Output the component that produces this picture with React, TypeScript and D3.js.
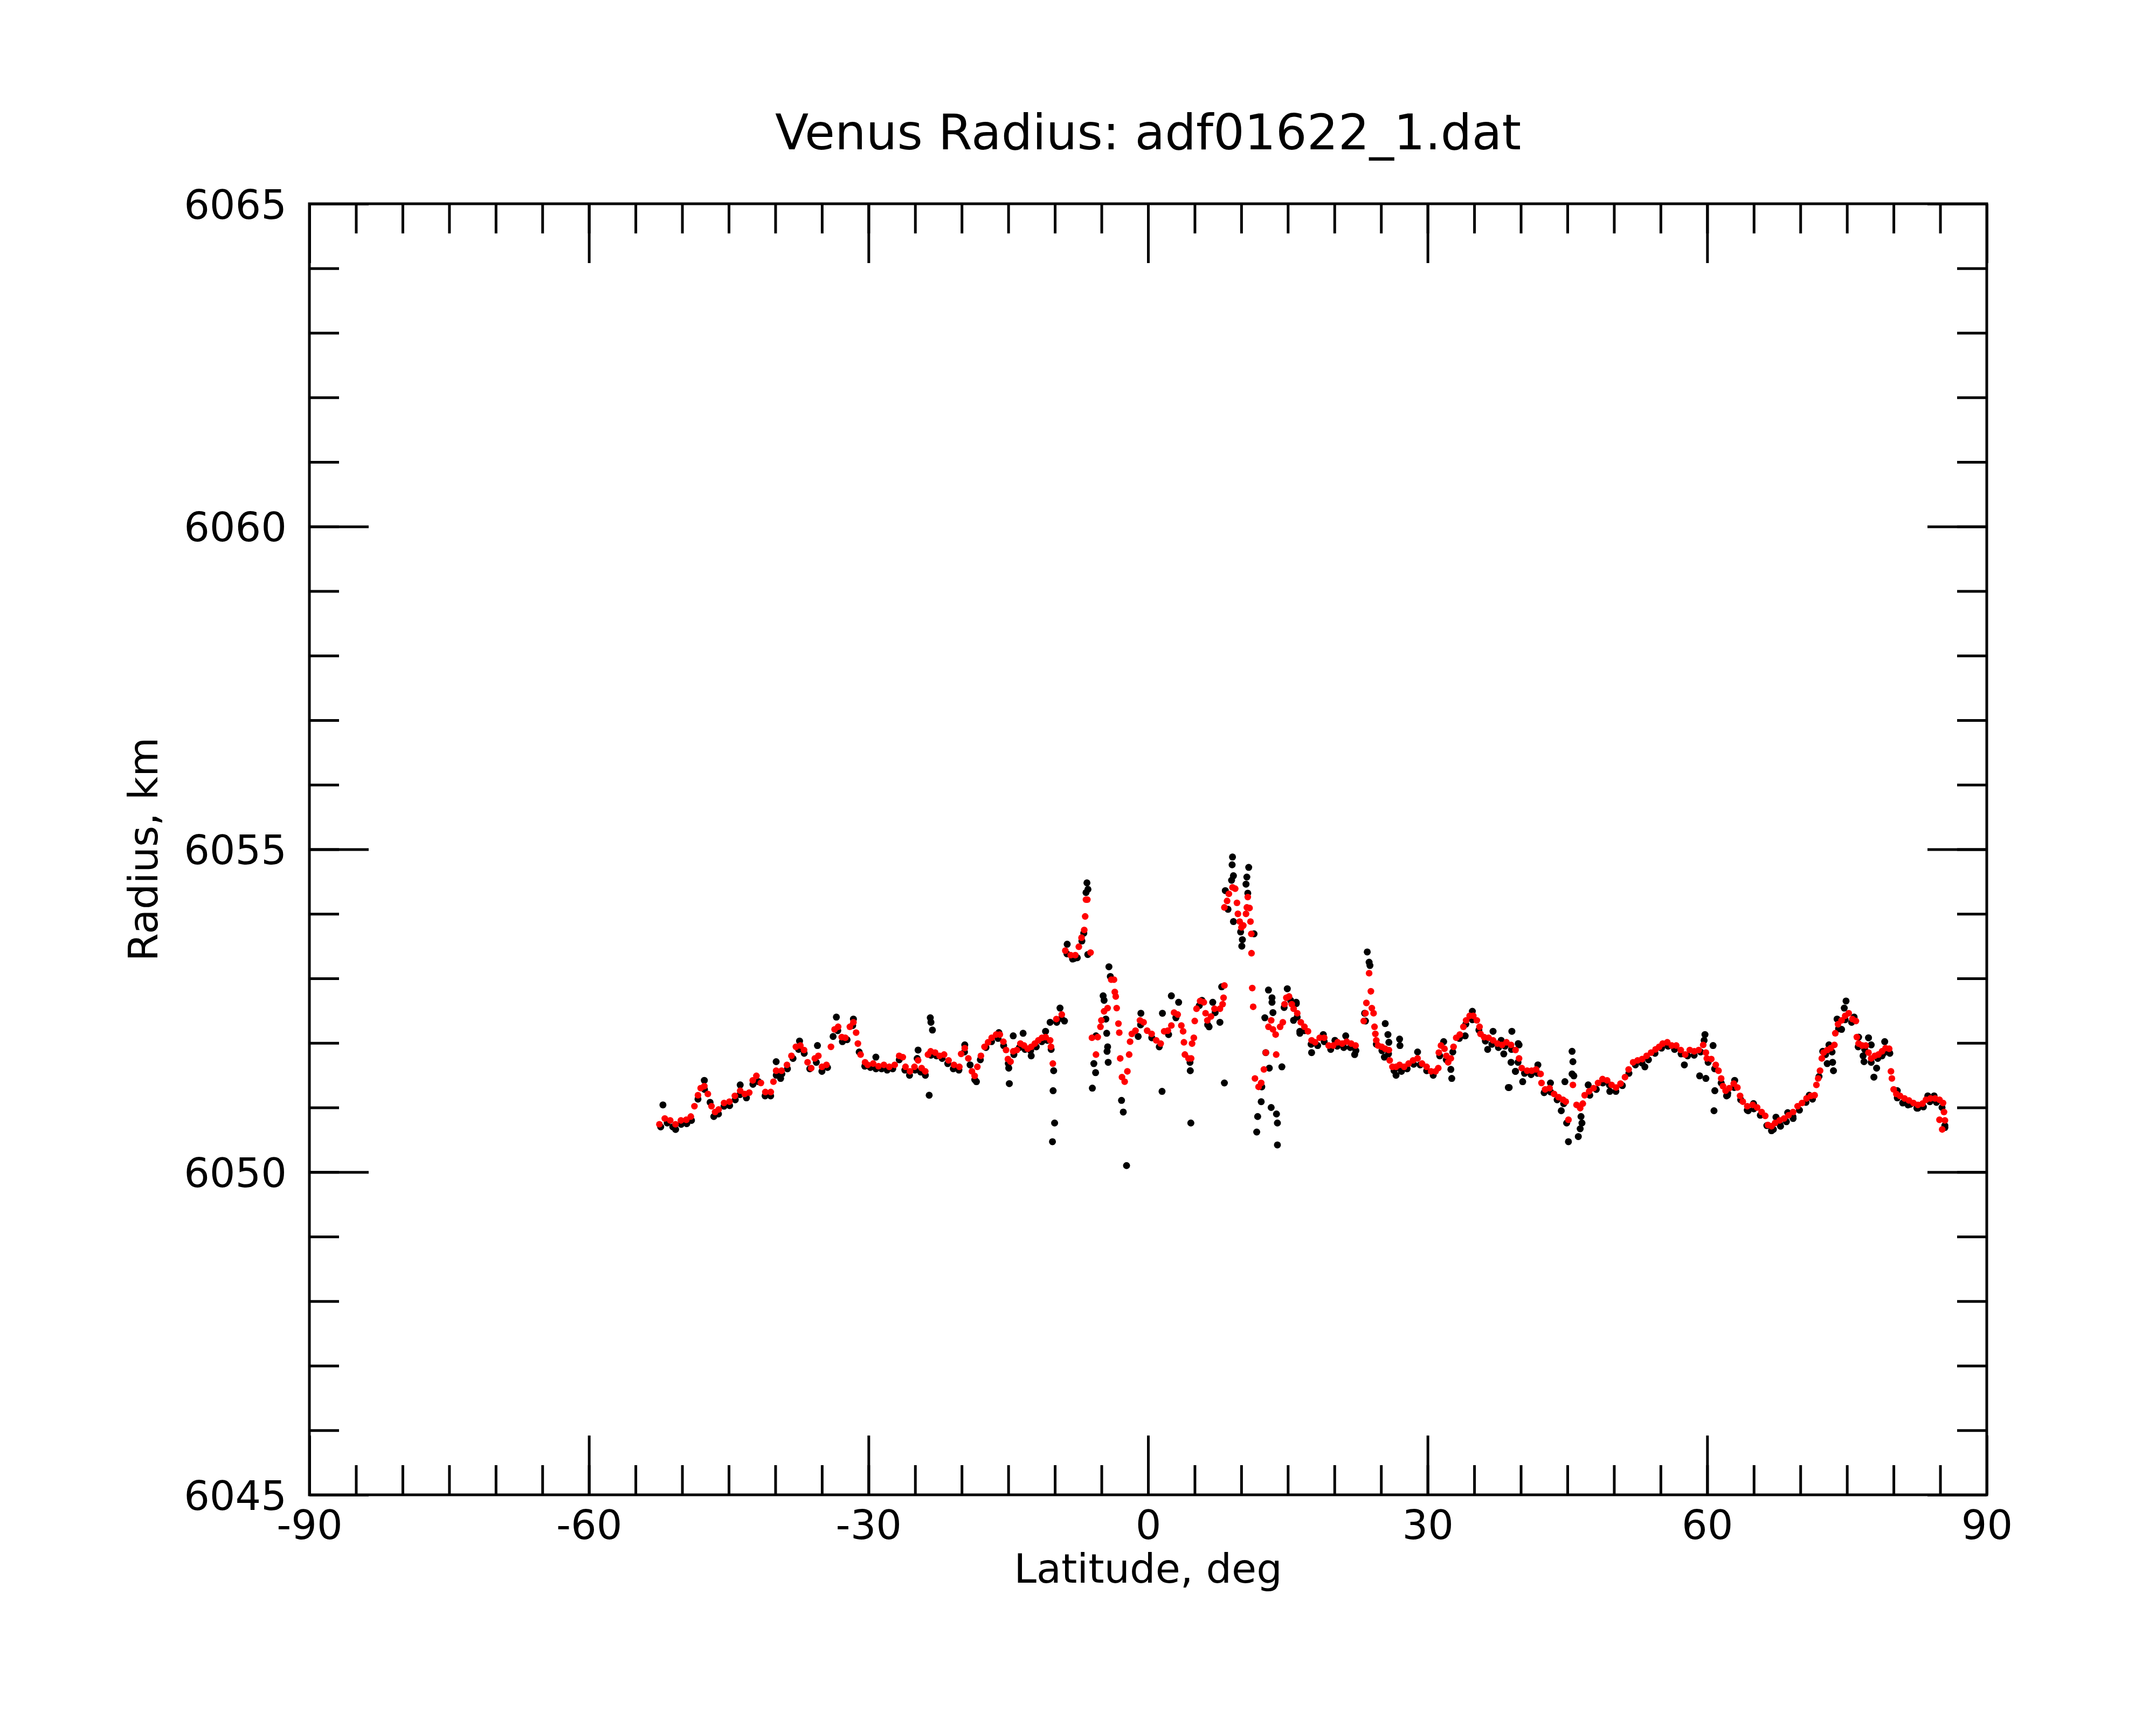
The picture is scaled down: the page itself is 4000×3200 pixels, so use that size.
import { useEffect, useRef } from "react";
import * as d3 from "d3";

const title = "Venus Radius: adf01622_1.dat";
const xLabel = "Latitude, deg";
const yLabel = "Radius, km";

const xMajorTicks = [-90, -60, -30, 0, 30, 60, 90];
const yMajorTicks = [6045, 6050, 6055, 6060, 6065];
const xMinorTicks = d3.range(-90, 91, 5);
const yMinorTicks = d3.range(6045, 6066, 1);

// smoothed radius profile (red), [latitude, radius]
const smoothed: [number, number][] = [
  [-52.44, 6050.74], [-51.86, 6050.83], [-51.28, 6050.8], [-50.71, 6050.74], [-50.13, 6050.8],
  [-49.55, 6050.81], [-49.07, 6050.86], [-48.68, 6051.02], [-48.3, 6051.19], [-48.01, 6051.3],
  [-47.62, 6051.33], [-47.24, 6051.21], [-46.85, 6051.02], [-46.46, 6050.93], [-46.08, 6050.97],
  [-45.5, 6051.07], [-44.92, 6051.09], [-44.34, 6051.18], [-43.77, 6051.26], [-43.28, 6051.21],
  [-42.8, 6051.23], [-42.42, 6051.42], [-42.03, 6051.49], [-41.55, 6051.38], [-41.07, 6051.24],
  [-40.49, 6051.24], [-40.2, 6051.4], [-39.91, 6051.57], [-39.33, 6051.57], [-38.75, 6051.66],
  [-38.27, 6051.8], [-37.79, 6051.94], [-37.31, 6051.96], [-36.92, 6051.89], [-36.54, 6051.7],
  [-36.15, 6051.61], [-35.76, 6051.76], [-35.38, 6051.8], [-34.99, 6051.63], [-34.51, 6051.66],
  [-34.03, 6051.94], [-33.64, 6052.21], [-33.26, 6052.25], [-32.87, 6052.09], [-32.49, 6052.08],
  [-32.0, 6052.25], [-31.62, 6052.32], [-31.33, 6052.16], [-31.14, 6051.99], [-30.85, 6051.82],
  [-30.37, 6051.7], [-30.08, 6051.66], [-29.5, 6051.68], [-28.93, 6051.64], [-28.35, 6051.66],
  [-27.77, 6051.63], [-27.19, 6051.66], [-26.71, 6051.8], [-26.32, 6051.78], [-26.03, 6051.63],
  [-25.55, 6051.56], [-25.07, 6051.63], [-24.68, 6051.73], [-24.3, 6051.61], [-23.91, 6051.56],
  [-23.62, 6051.82], [-23.33, 6051.87], [-22.85, 6051.85], [-22.37, 6051.8], [-21.89, 6051.82],
  [-21.41, 6051.73], [-20.83, 6051.66], [-20.25, 6051.63], [-20.06, 6051.83], [-19.67, 6051.92],
  [-19.29, 6051.76], [-18.9, 6051.56], [-18.61, 6051.49], [-18.32, 6051.63], [-17.94, 6051.8],
  [-17.55, 6051.94], [-17.17, 6052.01], [-16.78, 6052.08], [-16.3, 6052.13], [-15.91, 6052.13],
  [-15.53, 6052.02], [-15.24, 6051.89], [-15.04, 6051.75], [-14.76, 6051.71], [-14.47, 6051.87],
  [-14.08, 6051.89], [-13.7, 6051.99], [-13.31, 6051.96], [-12.92, 6051.91], [-12.54, 6051.94],
  [-12.15, 6051.99], [-11.77, 6052.04], [-11.38, 6052.08], [-11.0, 6052.09], [-10.51, 6052.04],
  [-10.42, 6051.94], [-10.22, 6051.68], [-9.84, 6052.37], [-9.26, 6052.44], [-8.88, 6053.43],
  [-8.3, 6053.36], [-7.81, 6053.36], [-7.43, 6053.49], [-7.14, 6053.63], [-6.85, 6053.75],
  [-6.75, 6053.96], [-6.66, 6054.22], [-6.52, 6054.22], [-6.17, 6053.4], [-6.02, 6052.08],
  [-5.59, 6051.82], [-5.4, 6052.09], [-5.11, 6052.25], [-5.01, 6052.35], [-4.72, 6052.49],
  [-4.34, 6052.54], [-3.95, 6052.98], [-3.66, 6052.98], [-3.57, 6052.79], [-3.47, 6052.72],
  [-3.37, 6052.54], [-3.18, 6052.3], [-3.09, 6052.16], [-2.99, 6051.76], [-2.8, 6051.47],
  [-2.51, 6051.4], [-2.22, 6051.56], [-2.03, 6051.82], [-1.93, 6052.02], [-1.74, 6052.14],
  [-1.35, 6052.19], [-0.87, 6052.35], [-0.48, 6052.32], [-0.1, 6052.19], [0.38, 6052.14],
  [0.87, 6052.04], [1.35, 6051.99], [1.73, 6052.18], [2.12, 6052.19], [2.5, 6052.27],
  [2.79, 6052.47], [3.18, 6052.44], [3.57, 6052.27], [3.76, 6052.18], [3.85, 6052.01],
  [3.95, 6051.82], [4.34, 6051.76], [4.62, 6051.76], [4.72, 6051.99], [4.91, 6052.08],
  [5.01, 6052.34], [5.2, 6052.53], [5.59, 6052.65], [5.98, 6052.63], [6.17, 6052.46],
  [6.36, 6052.35], [6.75, 6052.41], [7.13, 6052.53], [7.71, 6052.53], [8.0, 6052.6],
  [8.1, 6052.7], [8.19, 6052.89], [8.19, 6054.1], [8.48, 6054.2], [8.67, 6054.31],
  [9.06, 6054.41], [9.35, 6054.39], [9.54, 6054.17], [9.64, 6054.0], [9.83, 6053.88],
  [10.02, 6053.79], [10.22, 6053.82], [10.51, 6054.0], [10.6, 6054.1], [10.7, 6054.26],
  [10.89, 6054.09], [10.99, 6053.88], [11.08, 6053.69], [11.1, 6053.39], [11.18, 6052.85],
  [11.28, 6052.56], [11.47, 6051.45], [11.86, 6051.32], [12.14, 6051.38], [12.43, 6051.59],
  [12.63, 6051.85], [12.92, 6052.25], [13.21, 6052.35], [13.4, 6052.21], [13.69, 6052.13],
  [13.75, 6051.82], [14.17, 6052.25], [14.46, 6052.32], [14.65, 6052.6], [14.84, 6052.7],
  [15.13, 6052.72], [15.42, 6052.6], [15.62, 6052.53], [16.01, 6052.46], [16.39, 6052.32],
  [16.78, 6052.25], [17.16, 6052.18], [17.55, 6052.04], [17.93, 6052.01], [18.42, 6052.08],
  [18.9, 6052.08], [19.38, 6051.96], [19.86, 6051.96], [20.34, 6052.01], [20.83, 6051.99],
  [21.31, 6052.02], [21.79, 6051.99], [22.27, 6051.96], [23.14, 6052.34], [23.33, 6052.46],
  [23.43, 6052.62], [23.72, 6053.08], [23.91, 6052.8], [24.01, 6052.54], [24.2, 6052.46],
  [24.3, 6052.25], [24.39, 6052.14], [24.49, 6052.04], [24.68, 6051.96], [25.07, 6051.94],
  [25.45, 6051.91], [25.84, 6051.89], [25.93, 6051.73], [26.22, 6051.63], [26.61, 6051.63],
  [26.99, 6051.66], [27.48, 6051.63], [27.96, 6051.68], [28.44, 6051.73], [28.92, 6051.76],
  [29.4, 6051.68], [29.89, 6051.63], [30.37, 6051.56], [30.85, 6051.56], [31.14, 6051.61],
  [31.2, 6051.85], [31.43, 6051.96], [31.81, 6051.91], [32.01, 6051.8], [32.2, 6051.7],
  [32.49, 6051.76], [32.78, 6051.94], [33.07, 6052.08], [33.45, 6052.13], [33.84, 6052.25],
  [34.13, 6052.35], [34.51, 6052.42], [34.9, 6052.42], [35.28, 6052.35], [35.57, 6052.25],
  [35.67, 6052.14], [36.06, 6052.09], [36.54, 6052.08], [37.02, 6052.04], [37.5, 6051.99],
  [37.98, 6051.97], [38.46, 6052.01], [38.95, 6051.97], [39.43, 6051.89], [39.81, 6051.76],
  [40.1, 6051.61], [40.68, 6051.57], [41.16, 6051.57], [41.64, 6051.59], [42.12, 6051.52],
  [42.22, 6051.38], [42.61, 6051.28], [43.09, 6051.3], [43.57, 6051.21], [44.05, 6051.16],
  [44.53, 6051.12], [44.82, 6051.09], [45.11, 6050.81], [45.59, 6051.35], [45.98, 6051.04],
  [46.37, 6050.99], [46.65, 6051.06], [46.85, 6051.19], [47.33, 6051.25], [47.81, 6051.3],
  [48.29, 6051.38], [48.77, 6051.44], [49.26, 6051.42], [49.74, 6051.35], [50.22, 6051.31],
  [50.7, 6051.37], [51.18, 6051.47], [51.57, 6051.59], [52.05, 6051.7], [52.53, 6051.73],
  [53.02, 6051.75], [53.5, 6051.8], [53.98, 6051.85], [54.46, 6051.9], [54.85, 6051.94],
  [55.23, 6051.99], [55.72, 6052.01], [56.2, 6051.96], [56.68, 6051.96], [57.16, 6051.89],
  [57.64, 6051.82], [58.13, 6051.89], [58.61, 6051.87], [59.09, 6051.89], [59.57, 6051.97],
  [59.86, 6051.85], [59.96, 6051.76], [60.44, 6051.75], [60.92, 6051.66], [61.21, 6051.57],
  [61.5, 6051.45], [61.69, 6051.33], [61.98, 6051.26], [62.37, 6051.3], [62.85, 6051.37],
  [63.24, 6051.31], [63.53, 6051.18], [63.82, 6051.09], [64.3, 6051.02], [64.88, 6051.04],
  [65.36, 6051.0], [65.84, 6050.93], [66.23, 6050.87], [66.52, 6050.73], [66.9, 6050.71],
  [67.29, 6050.76], [67.77, 6050.8], [68.25, 6050.83], [68.73, 6050.88], [69.22, 6050.93],
  [69.7, 6051.02], [70.18, 6051.07], [70.66, 6051.14], [71.14, 6051.18], [71.53, 6051.19],
  [71.72, 6051.35], [71.91, 6051.45], [72.11, 6051.57], [72.3, 6051.76], [72.49, 6051.85],
  [72.88, 6051.89], [73.26, 6051.92], [73.65, 6051.97], [73.75, 6052.15], [74.04, 6052.29],
  [74.42, 6052.35], [74.81, 6052.42], [75.19, 6052.46], [75.58, 6052.37], [75.96, 6052.34],
  [76.06, 6052.09], [76.25, 6051.99], [76.64, 6051.96], [77.02, 6051.96], [77.31, 6051.85],
  [77.6, 6051.76], [77.99, 6051.8], [78.37, 6051.82], [78.76, 6051.87], [79.14, 6051.92],
  [79.53, 6051.91], [79.72, 6051.56], [79.82, 6051.45], [80.01, 6051.28], [80.3, 6051.21],
  [80.69, 6051.18], [81.17, 6051.14], [81.65, 6051.11], [82.13, 6051.07], [82.61, 6051.04],
  [83.1, 6051.06], [83.48, 6051.12], [83.96, 6051.14], [84.45, 6051.14], [84.93, 6051.12],
  [85.31, 6051.07], [85.41, 6050.93], [85.51, 6050.8], [85.22, 6050.66], [84.93, 6050.81],
];

// raw samples lying along the profile (black)
const rawTrace: [number, number][] = [
  [-52.3, 6050.7], [-51.6, 6050.76], [-51.0, 6050.7], [-50.7, 6050.66], [-50.1, 6050.74],
  [-49.5, 6050.75], [-49.0, 6050.8], [-48.3, 6051.13], [-47.6, 6051.28], [-47.0, 6051.08],
  [-46.6, 6050.86], [-46.1, 6050.9], [-45.5, 6051.02], [-44.9, 6051.03], [-44.3, 6051.12],
  [-43.8, 6051.2], [-43.1, 6051.15], [-42.4, 6051.36], [-41.8, 6051.4], [-41.1, 6051.18],
  [-40.5, 6051.18], [-39.9, 6051.5], [-39.3, 6051.52], [-38.7, 6051.6], [-38.1, 6051.76],
  [-37.5, 6051.9], [-36.9, 6051.84], [-36.3, 6051.6], [-35.6, 6051.7], [-35.0, 6051.56],
  [-34.4, 6051.62], [-33.8, 6052.1], [-33.3, 6052.19], [-32.8, 6052.02], [-32.3, 6052.05],
  [-31.7, 6052.27], [-31.0, 6051.86], [-30.4, 6051.64], [-29.8, 6051.62], [-29.2, 6051.6],
  [-28.6, 6051.6], [-28.0, 6051.58], [-27.4, 6051.6], [-26.7, 6051.74], [-26.1, 6051.58],
  [-25.6, 6051.5], [-25.0, 6051.58], [-24.4, 6051.55], [-23.9, 6051.5], [-23.3, 6051.81],
  [-22.7, 6051.8], [-22.1, 6051.76], [-21.5, 6051.68], [-20.9, 6051.6], [-20.3, 6051.58],
  [-19.7, 6051.86], [-19.1, 6051.66], [-18.6, 6051.43], [-18.0, 6051.74], [-17.4, 6051.93],
  [-16.8, 6052.02], [-16.1, 6052.07], [-15.5, 6051.96], [-15.0, 6051.68], [-14.4, 6051.82],
  [-13.8, 6051.93], [-13.2, 6051.9], [-12.6, 6051.88], [-12.0, 6051.94], [-11.4, 6052.02],
  [-10.8, 6052.04], [-10.4, 6051.9], [-9.8, 6052.32], [-9.3, 6052.38], [-8.7, 6053.38],
  [-8.1, 6053.3], [-7.6, 6053.32], [-7.1, 6053.58], [-6.9, 6053.7], [-0.8, 6052.28],
  [0.4, 6052.08], [1.2, 6051.94], [2.2, 6052.13], [3.0, 6052.4], [4.5, 6051.7],
  [5.5, 6052.58], [6.4, 6052.28], [7.2, 6052.47], [12.2, 6051.32], [14.6, 6052.55],
  [15.3, 6052.66], [16.0, 6052.4], [16.8, 6052.19], [17.5, 6051.98], [18.2, 6051.96],
  [18.9, 6052.02], [19.6, 6051.9], [20.3, 6051.95], [21.0, 6051.93], [21.7, 6051.93],
  [22.3, 6051.88], [24.5, 6051.98], [25.1, 6051.88], [25.8, 6051.83], [26.4, 6051.57],
  [27.1, 6051.6], [27.8, 6051.6], [28.5, 6051.67], [29.2, 6051.66], [29.9, 6051.57],
  [30.6, 6051.5], [31.3, 6051.8], [32.0, 6051.74], [32.7, 6051.86], [33.4, 6052.07],
  [34.1, 6052.29], [34.8, 6052.36], [35.5, 6052.2], [36.2, 6052.03], [36.9, 6051.98],
  [37.6, 6051.93], [38.3, 6051.95], [39.0, 6051.9], [39.7, 6051.7], [40.4, 6051.53],
  [41.1, 6051.51], [41.8, 6051.53], [42.5, 6051.23], [43.2, 6051.24], [43.9, 6051.12],
  [44.6, 6051.06], [47.4, 6051.19], [48.1, 6051.28], [48.8, 6051.38], [49.5, 6051.35],
  [50.2, 6051.25], [50.9, 6051.34], [51.6, 6051.53], [52.3, 6051.66], [53.0, 6051.69],
  [53.7, 6051.74], [54.4, 6051.84], [55.1, 6051.92], [55.8, 6051.95], [56.5, 6051.9],
  [57.2, 6051.83], [57.9, 6051.8], [58.6, 6051.81], [59.3, 6051.86], [60.1, 6051.7],
  [60.8, 6051.6], [61.5, 6051.38], [62.2, 6051.22], [62.9, 6051.31], [63.6, 6051.12],
  [64.3, 6050.96], [65.0, 6050.98], [65.7, 6050.88], [66.4, 6050.72], [67.1, 6050.66],
  [67.8, 6050.74], [68.5, 6050.78], [69.2, 6050.86], [69.9, 6050.96], [70.6, 6051.08],
  [71.3, 6051.13], [72.0, 6051.48], [72.7, 6051.82], [73.4, 6051.86], [74.1, 6052.22],
  [74.8, 6052.36], [75.5, 6052.32], [76.2, 6051.94], [76.9, 6051.9], [77.6, 6051.7],
  [78.3, 6051.76], [79.0, 6051.85], [79.6, 6051.84], [80.4, 6051.15], [81.1, 6051.08],
  [81.8, 6051.05], [82.5, 6050.99], [83.2, 6051.01], [83.9, 6051.09], [84.6, 6051.08],
  [85.2, 6051.0], [85.5, 6050.72],
];

// raw samples scattered off the profile (black)
const rawScatter: [number, number][] = [
  [-52.06, 6051.04], [-47.62, 6051.42], [-43.77, 6051.35], [-39.91, 6051.71], [-39.43, 6051.45],
  [-37.4, 6052.03], [-35.48, 6051.96], [-33.45, 6052.4], [-31.62, 6052.37], [-29.21, 6051.78],
  [-24.78, 6051.76], [-24.68, 6051.89], [-23.37, 6052.39], [-23.3, 6052.32], [-23.14, 6052.2],
  [-23.49, 6051.19], [-19.67, 6051.97], [-18.42, 6051.4], [-16.01, 6052.16], [-14.47, 6052.11],
  [-14.95, 6051.61], [-14.89, 6051.37], [-13.41, 6052.15], [-12.54, 6051.8], [-11.0, 6052.18],
  [-10.51, 6052.32], [-10.13, 6051.57], [-10.19, 6051.26], [-10.03, 6050.76], [-10.26, 6050.47],
  [-9.45, 6052.54], [-8.97, 6052.34], [-8.68, 6053.53], [-7.91, 6053.31], [-6.56, 6054.48],
  [-6.66, 6054.33], [-6.47, 6053.37], [-6.45, 6054.38], [-5.98, 6051.3], [-5.63, 6051.54],
  [-5.82, 6051.68], [-5.59, 6052.11], [-4.82, 6052.73], [-4.72, 6052.66], [-4.53, 6052.37],
  [-4.44, 6052.15], [-4.34, 6051.94], [-4.4, 6051.87], [-4.28, 6051.7], [-4.2, 6053.18],
  [-4.05, 6053.03], [-2.85, 6051.11], [-2.66, 6050.93], [-2.31, 6050.1], [-0.77, 6052.46],
  [-1.06, 6052.1], [1.54, 6052.46], [1.5, 6051.25], [2.5, 6052.73], [3.28, 6052.63],
  [2.99, 6052.39], [4.53, 6051.57], [4.59, 6050.76], [5.78, 6052.66], [6.55, 6052.25],
  [6.94, 6052.63], [7.71, 6052.32], [7.9, 6052.87], [8.19, 6051.38], [8.29, 6054.36],
  [8.58, 6054.07], [9.06, 6054.88], [9.02, 6054.76], [9.16, 6054.59], [8.96, 6054.52],
  [9.16, 6053.88], [9.93, 6053.72], [10.12, 6053.6], [10.06, 6053.5], [10.8, 6054.72],
  [10.6, 6054.57], [10.51, 6054.46], [10.7, 6054.32], [11.37, 6053.69], [12.92, 6052.82],
  [13.3, 6052.7], [13.3, 6052.63], [13.4, 6052.47], [12.53, 6052.39], [12.63, 6051.85],
  [13.01, 6051.61], [14.36, 6051.63], [11.76, 6050.86], [11.66, 6050.62], [12.14, 6051.09],
  [13.21, 6051.0], [13.78, 6050.9], [13.88, 6050.76], [13.88, 6050.42], [14.94, 6052.84],
  [15.9, 6052.63], [16.29, 6052.18], [15.61, 6052.35], [15.91, 6052.61], [16.29, 6052.15],
  [17.55, 6051.85], [18.8, 6052.13], [20.05, 6052.04], [21.21, 6052.11], [22.17, 6051.82],
  [23.52, 6053.41], [23.72, 6053.25], [23.81, 6053.2], [23.24, 6052.46], [23.33, 6052.34],
  [25.45, 6052.3], [25.74, 6052.13], [25.84, 6052.01], [26.99, 6052.06], [27.03, 6051.96],
  [25.36, 6051.78], [26.61, 6051.5], [27.19, 6051.56], [28.92, 6051.86], [31.72, 6052.02],
  [32.49, 6051.59], [32.59, 6051.45], [34.03, 6052.11], [34.8, 6052.49], [37.02, 6052.18],
  [36.44, 6051.9], [37.89, 6052.04], [39.04, 6052.18], [38.95, 6051.7], [39.43, 6051.56],
  [38.66, 6051.31], [38.17, 6051.83], [39.72, 6051.99], [39.81, 6051.97], [38.75, 6051.31],
  [39.42, 6051.56], [40.2, 6051.4], [41.83, 6051.66], [43.18, 6051.38], [44.34, 6050.95],
  [44.73, 6051.4], [44.92, 6050.76], [45.11, 6050.47], [45.5, 6051.87], [45.59, 6051.71],
  [45.5, 6051.52], [45.69, 6051.49], [46.46, 6050.86], [46.56, 6050.76], [46.37, 6050.67],
  [46.17, 6050.55], [47.23, 6051.35], [49.55, 6051.25], [53.31, 6051.63], [57.55, 6051.66],
  [59.76, 6052.13], [59.67, 6052.04], [60.63, 6051.96], [59.19, 6051.49], [59.86, 6051.45],
  [60.82, 6051.26], [60.73, 6050.95], [62.08, 6051.18], [62.95, 6051.42], [62.18, 6051.19],
  [64.4, 6050.95], [64.97, 6051.06], [66.9, 6050.64], [67.38, 6050.85], [67.87, 6050.71],
  [68.64, 6050.92], [69.22, 6050.83], [70.95, 6051.19], [72.4, 6051.87], [72.88, 6051.68],
  [73.46, 6051.7], [73.55, 6051.57], [73.07, 6051.97], [73.94, 6052.37], [74.42, 6052.21],
  [74.9, 6052.65], [74.71, 6052.54], [75.77, 6052.4], [76.25, 6052.09], [77.31, 6052.08],
  [77.6, 6051.97], [76.73, 6051.8], [76.83, 6051.71], [78.18, 6051.61], [77.89, 6051.47],
  [79.05, 6052.02], [78.76, 6051.8], [80.4, 6051.26], [80.98, 6051.07], [81.55, 6051.04],
  [82.61, 6050.99], [83.67, 6051.18], [84.35, 6051.18], [85.51, 6050.69],
];

const W = 4000;
const H = 3200;
const margin = { top: 378, right: 314, bottom: 427, left: 574 };
const FONT = "DejaVu Sans";

const x = d3.scaleLinear().domain([-90, 90]).range([margin.left, W - margin.right]);
const y = d3.scaleLinear().domain([6045, 6065]).range([H - margin.bottom, margin.top]);

const App = () => {
  const axesRef = useRef<SVGGElement>(null);

  useEffect(() => {
    const g = d3.select(axesRef.current);
    g.selectAll("*").remove();

    const styleAxis = (sel: any) => {
      sel.select(".domain").remove();
      sel.selectAll("line").attr("stroke", "#000").attr("stroke-width", 5);
      sel.attr("font-family", FONT).attr("font-size", 75);
    };
    const none = () => "";

    const bottom = H - margin.bottom;
    const right = W - margin.right;

    // bottom
    g.append("g")
      .attr("transform", `translate(0,${bottom})`)
      .call(d3.axisBottom(x).tickValues(xMinorTicks).tickSize(-55).tickFormat(none))
      .call(styleAxis);
    g.append("g")
      .attr("transform", `translate(0,${bottom})`)
      .call(d3.axisBottom(x).tickValues(xMajorTicks).tickSize(-110).tickFormat((d) => String(d)))
      .call(styleAxis)
      .selectAll("text")
      .attr("y", 82)
      .attr("dy", null)
      .attr("fill", "#000");

    // top
    g.append("g")
      .attr("transform", `translate(0,${margin.top})`)
      .call(d3.axisTop(x).tickValues(xMinorTicks).tickSize(-55).tickFormat(none))
      .call(styleAxis);
    g.append("g")
      .attr("transform", `translate(0,${margin.top})`)
      .call(d3.axisTop(x).tickValues(xMajorTicks).tickSize(-110).tickFormat(none))
      .call(styleAxis);

    // left
    g.append("g")
      .attr("transform", `translate(${margin.left},0)`)
      .call(d3.axisLeft(y).tickValues(yMinorTicks).tickSize(-55).tickFormat(none))
      .call(styleAxis);
    g.append("g")
      .attr("transform", `translate(${margin.left},0)`)
      .call(
        d3.axisLeft(y).tickValues(yMajorTicks).tickSize(-110).tickPadding(42).tickFormat((d) => String(d))
      )
      .call(styleAxis)
      .selectAll("text")
      .attr("dy", "0.36em")
      .attr("fill", "#000");

    // right
    g.append("g")
      .attr("transform", `translate(${right},0)`)
      .call(d3.axisRight(y).tickValues(yMinorTicks).tickSize(-55).tickFormat(none))
      .call(styleAxis);
    g.append("g")
      .attr("transform", `translate(${right},0)`)
      .call(d3.axisRight(y).tickValues(yMajorTicks).tickSize(-110).tickFormat(none))
      .call(styleAxis);
  }, []);

  const plotW = W - margin.left - margin.right;
  const plotH = H - margin.top - margin.bottom;

  return (
    <svg
      width={W}
      height={H}
      viewBox={`0 0 ${W} ${H}`}
      style={{ position: "absolute", left: 0, top: 0, background: "#fff" }}
    >
      <rect x={0} y={0} width={W} height={H} fill="#fff" />
      <g>
        {rawTrace.concat(rawScatter).map((d, i) => (
          <circle key={"k" + i} cx={x(d[0])} cy={y(d[1])} r={6.5} fill="#000" />
        ))}
        {smoothed.map((d, i) => (
          <circle key={"r" + i} cx={x(d[0])} cy={y(d[1])} r={6.2} fill="#ff0000" />
        ))}
      </g>
      <g ref={axesRef} />
      <rect
        x={margin.left}
        y={margin.top}
        width={plotW}
        height={plotH}
        fill="none"
        stroke="#000"
        strokeWidth={5}
      />
      <text
        x={x(0)}
        y={277}
        textAnchor="middle"
        fontFamily={FONT}
        fontSize={91}
        fill="#000"
      >
        {title}
      </text>
      <text
        x={x(0)}
        y={2936}
        textAnchor="middle"
        fontFamily={FONT}
        fontSize={75}
        fill="#000"
      >
        {xLabel}
      </text>
      <text
        transform={`translate(292,${(margin.top + H - margin.bottom) / 2}) rotate(-90)`}
        textAnchor="middle"
        fontFamily={FONT}
        fontSize={75}
        fill="#000"
      >
        {yLabel}
      </text>
    </svg>
  );
};

export default App;
